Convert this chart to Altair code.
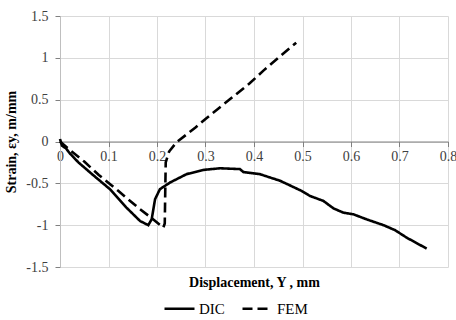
import altair as alt
import pandas as pd

# DIC measured curve
dic_x = [0.0, 0.004, 0.012, 0.02, 0.038, 0.07, 0.103, 0.137, 0.165, 0.182, 0.189, 0.196,
         0.206, 0.227, 0.261, 0.295, 0.33, 0.371, 0.378, 0.412, 0.454, 0.498, 0.515, 0.543,
         0.564, 0.584, 0.605, 0.632, 0.667, 0.691, 0.715, 0.756]
dic_y = [0.03, -0.05, -0.08, -0.14, -0.25, -0.41, -0.57, -0.79, -0.95, -1.0, -0.93, -0.69,
         -0.57, -0.49, -0.39, -0.34, -0.32, -0.33, -0.365, -0.39, -0.47, -0.59, -0.65, -0.71,
         -0.80, -0.85, -0.87, -0.93, -1.0, -1.06, -1.15, -1.28]

# FEM curve
fem_x = [0.0, 0.02, 0.05, 0.08, 0.12, 0.165, 0.19, 0.213, 0.216, 0.217, 0.218, 0.225,
         0.24, 0.26, 0.28, 0.30, 0.33, 0.36, 0.39, 0.42, 0.45, 0.487]
fem_y = [0.0, -0.1, -0.24, -0.4, -0.59, -0.81, -0.92, -1.03, -0.98, -0.6, -0.25, -0.12,
         -0.01, 0.08, 0.17, 0.27, 0.41, 0.55, 0.69, 0.85, 1.0, 1.18]

series_names = ["DIC", "FEM"]
x_ticks = [0, 0.1, 0.2, 0.3, 0.4, 0.5, 0.6, 0.7, 0.8]
y_ticks = [-1.5, -1, -0.5, 0, 0.5, 1, 1.5]

rows = []
for i, (x, y) in enumerate(zip(dic_x, dic_y)):
    rows.append({"series": "DIC", "x": x, "y": y, "i": i})
for i, (x, y) in enumerate(zip(fem_x, fem_y)):
    rows.append({"series": "FEM", "x": x, "y": y, "i": i})
df = pd.DataFrame(rows)

W, H = 388, 251
FONT = "Liberation Serif"
minus = "datum.value < 0 ? '-' + format(-datum.value, '~g') : format(datum.value, '~g')"

chart = alt.Chart(df).mark_line(strokeWidth=2.6, color="black").encode(
    x=alt.X("x:Q", scale=alt.Scale(domain=[0, 0.8], nice=False),
            axis=alt.Axis(values=x_ticks, offset=-H / 2, labelExpr=minus, labelFlush=False,
                          labelOverlap=False, tickSize=5, tickColor="#808080", domainColor="#808080",
                          gridColor="#d9d9d9", labelFont=FONT, labelFontSize=14,
                          labelColor="#404040", labelPadding=3,
                          title="Displacement, Y , mm", titleFont=FONT, titleFontSize=14,
                          titleFontWeight="bold", titleColor="#000000",
                          titleBaseline="middle", titleY=140.5)),
    y=alt.Y("y:Q", scale=alt.Scale(domain=[-1.5, 1.5], nice=False),
            axis=alt.Axis(values=y_ticks, labelExpr=minus, labelFlush=False, labelOverlap=False,
                          tickSize=5, tickColor="#808080", domainColor="#bfbfbf",
                          gridColor="#d9d9d9", labelFont=FONT, labelFontSize=14,
                          labelColor="#404040", labelPadding=7,
                          title="Strain, εy, m/mm", titleFont=FONT, titleFontSize=14,
                          titleFontWeight="bold", titleColor="#000000",
                          titleBaseline="middle", titleAlign="center", titleAngle=-90,
                          titleX=-49, titleY=H / 2)),
    strokeDash=alt.StrokeDash("series:N",
                              scale=alt.Scale(domain=series_names, range=[[1, 0], [10, 5]]),
                              legend=alt.Legend(orient="none", legendX=103, legendY=276,
                                                direction="horizontal", title=None,
                                                symbolType="stroke", symbolSize=900,
                                                symbolStrokeWidth=2.6, symbolStrokeColor="black",
                                                labelFont=FONT, labelFontSize=15,
                                                labelColor="#000000", columnPadding=12,
                                                labelOffset=3)),
    order="i:Q",
).properties(
    width=W, height=H, autosize="none",
    padding={"left": 60, "top": 16, "right": 8, "bottom": 53},
).configure(font=FONT).configure_view(stroke=None)

chart.save("out.html", embed_options={"renderer": "svg", "actions": False})
